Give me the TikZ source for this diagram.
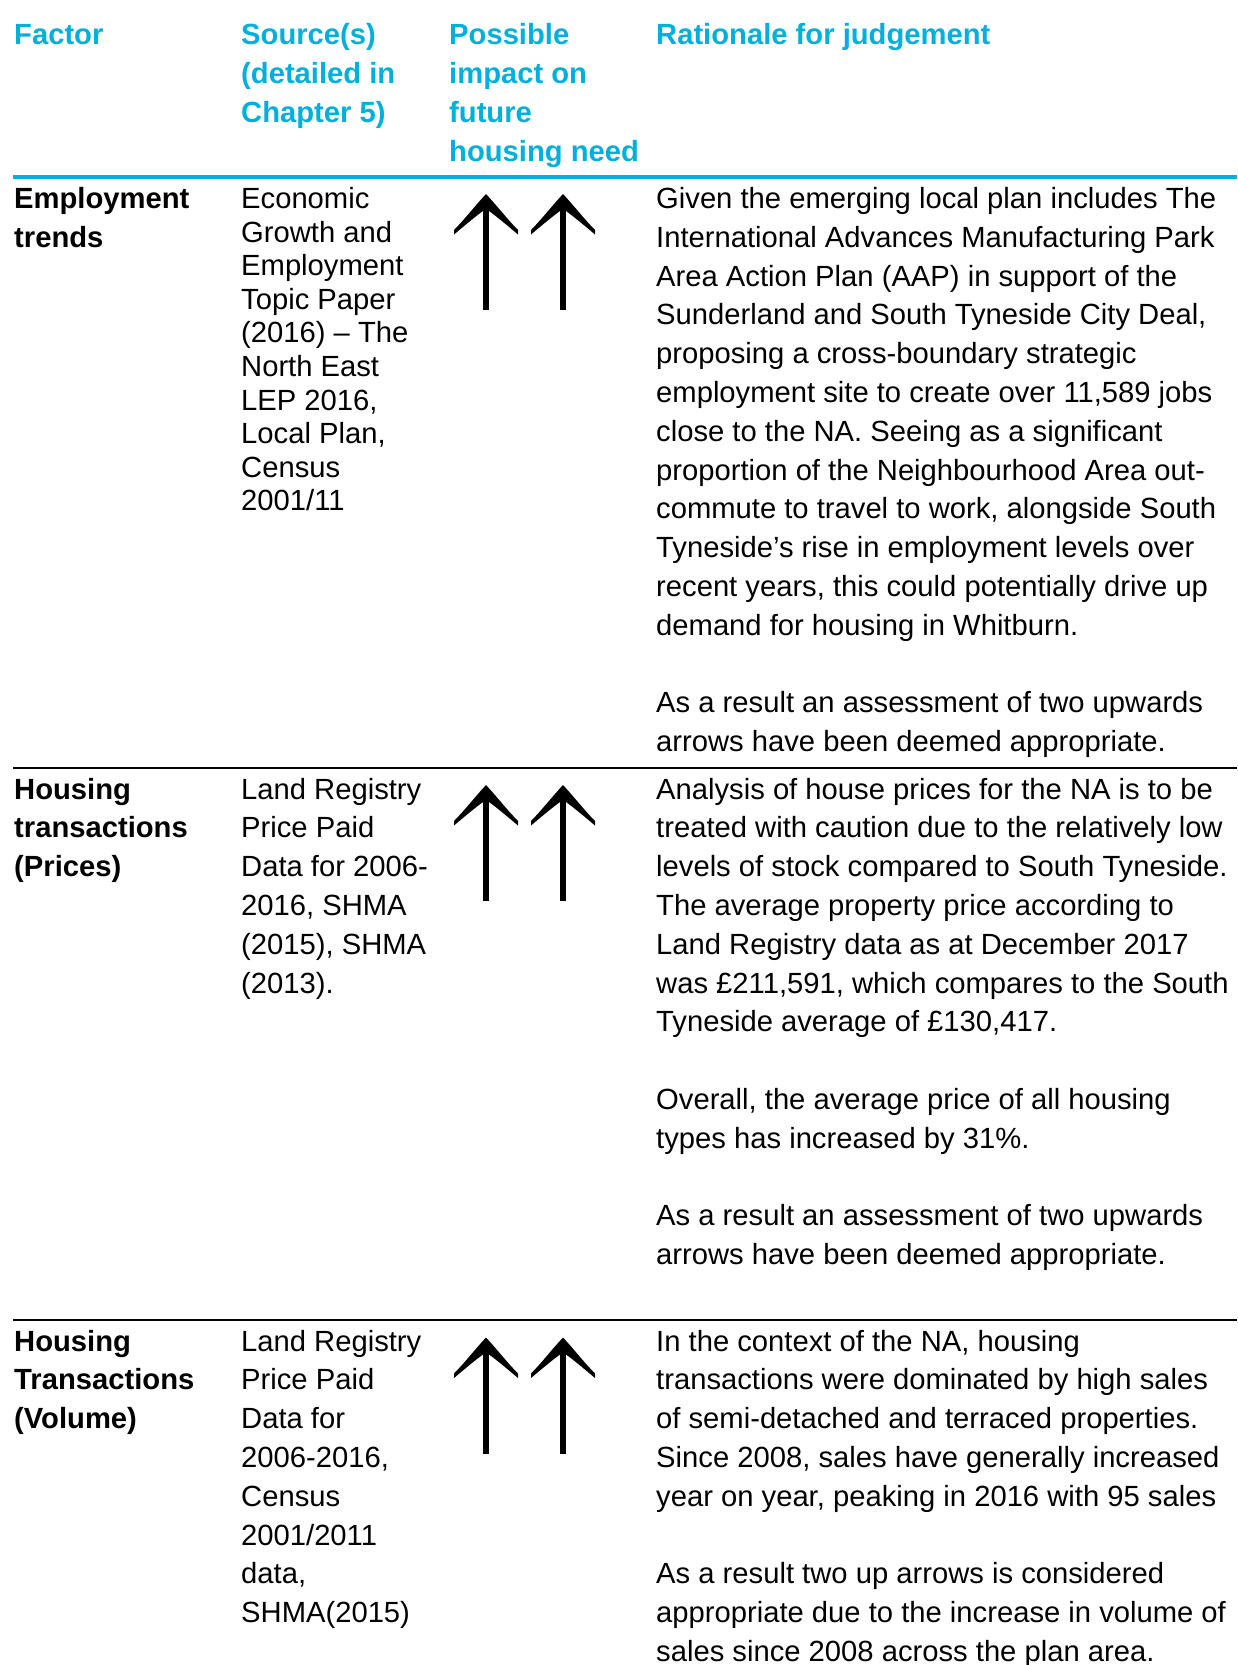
\documentclass[tikz,border=0pt]{standalone}
\usepackage{fontspec}
\setmainfont{Liberation Sans}
\usepackage{tikz}
\usetikzlibrary{positioning}
\usepackage{xcolor}
\definecolor{tblcyan}{RGB}{0,176,220}

\begin{document}
\begin{tikzpicture}[x=1pt, y=-1pt,
    cell/.style={anchor=base west, inner sep=0pt, align=left},
    hdr/.style={cell, text=tblcyan, font=\fontsize{29.2}{39}\selectfont\bfseries},
    fac/.style={cell, font=\fontsize{29.2}{38.8}\selectfont\bfseries},
    txt/.style={cell, font=\fontsize{29.2}{38.8}\selectfont},
    tight/.style={cell, font=\fontsize{29.2}{33.6}\selectfont},
    uparrow/.pic={
        \fill (0,0) .. controls (-12,13) and (-22,26) .. (-32,36) -- (-32,40.5)
            .. controls (-22,32) and (-10,22) .. (-3,17) -- (3,17)
            .. controls (10,22) and (22,32) .. (32,40.5) -- (32,36)
            .. controls (22,26) and (12,13) .. (0,0) -- cycle;
        \draw [line width=6.5pt] (0,12) -- (0,116);
    }]
    \useasboundingbox (0,0) rectangle (1237,1665);
    % nodes sit on the baseline of their last line

    % header
    \node [hdr] (factor) at (14,44) {Factor};
    \node [hdr] (source) at (241,122) {Source(s)\\(detailed in\\Chapter 5)};
    \node [hdr] (impact) at (449,161) {Possible\\impact on\\future\\housing need};
    \node [hdr] (rationale) at (656,44) {Rationale for judgement};
    \draw [tblcyan, line width=4pt] (13,177.3) -- (1237,177.3);

    % employment trends
    \node [fac] (facA) at (14,247.3) {Employment\\trends};
    \node [tight] (srcA) at (241,510.9) {Economic\\Growth and\\Employment\\Topic Paper\\(2016) – The\\North East\\LEP 2016,\\Local Plan,\\Census\\2001/11};
    \pic at (486,194) {uparrow};
    \pic at (563,194) {uparrow};
    \node [txt] (ratA) at (656,751.7) {Given the emerging local plan includes The\\International Advances Manufacturing Park\\Area Action Plan (AAP) in support of the\\Sunderland and South Tyneside City Deal,\\proposing a cross-boundary strategic\\employment site to create over 11,589 jobs\\close to the NA. Seeing as a significant\\proportion of the Neighbourhood Area out-\\commute to travel to work, alongside South\\Tyneside’s rise in employment levels over\\recent years, this could potentially drive up\\demand for housing in Whitburn.\\[38.8pt]As a result an assessment of two upwards\\arrows have been deemed appropriate.};
    \draw [line width=2pt] (13,767.7) -- (1237,767.7);

    % prices
    \node [fac] (facB) at (14,876.6) {Housing\\transactions\\(Prices)};
    \node [txt] (srcB) at (241,993) {Land Registry\\Price Paid\\Data for 2006-\\2016, SHMA\\(2015), SHMA\\(2013).};
    \pic at (486,785) {uparrow};
    \pic at (563,785) {uparrow};
    \node [txt] (ratB) at (656,1264.6) {Analysis of house prices for the NA is to be\\treated with caution due to the relatively low\\levels of stock compared to South Tyneside.\\The average property price according to\\Land Registry data as at December 2017\\was £211,591, which compares to the South\\Tyneside average of £130,417.\\[38.8pt]Overall, the average price of all housing\\types has increased by 31\%.\\[38.8pt]As a result an assessment of two upwards\\arrows have been deemed appropriate.};
    \draw [line width=2pt] (13,1319.7) -- (1237,1319.7);

    % volume
    \node [fac] (facC) at (14,1428.6) {Housing\\Transactions\\(Volume)};
    \node [txt] (srcC) at (241,1622.6) {Land Registry\\Price Paid\\Data for\\2006-2016,\\Census\\2001/2011\\data,\\SHMA(2015)};
    \pic at (486,1337.5) {uparrow};
    \pic at (563,1337.5) {uparrow};
    \node [txt] (ratC) at (656,1661.4) {In the context of the NA, housing\\transactions were dominated by high sales\\of semi-detached and terraced properties.\\Since 2008, sales have generally increased\\year on year, peaking in 2016 with 95 sales\\[38.8pt]As a result two up arrows is considered\\appropriate due to the increase in volume of\\sales since 2008 across the plan area.};
\end{tikzpicture}
\end{document}
